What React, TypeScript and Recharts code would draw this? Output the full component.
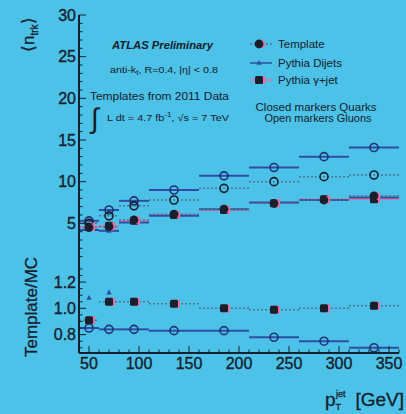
import React from "react";
import { ComposedChart, Scatter, XAxis, YAxis, ErrorBar } from "recharts";

// jet pT bins [GeV]
const binCenters = [50, 70, 95, 135, 185, 235, 285, 335];
const binHalfWidths = [10, 10, 15, 25, 25, 25, 25, 25];

// mean track multiplicity, quark jets (closed markers)
const templateQuark = [4.5, 4.6, 5.4, 6.1, 6.7, 7.4, 7.8, 8.3];
const gammaJetQuark = [4.6, 4.7, 5.3, 6.0, 6.6, 7.4, 7.9, 7.9];
const dijetQuark = [4.2, 4.1, 5.1, 5.9, 6.7, 7.5, 7.8, 8.1];

// mean track multiplicity, gluon jets (open markers)
const templateGluon = [5.0, 5.9, 7.1, 7.8, 9.2, 10.0, 10.6, 10.8];
const dijetGluon = [5.3, 6.6, 7.7, 9.0, 10.7, 11.7, 13.0, 14.1];

// Template / MC
const ratioQuark = [0.91, 1.05, 1.05, 1.035, 1.0, 0.99, 1.0, 1.02];
const ratioQuarkDijet = [1.08, 1.12, 1.06, 1.04, 1.0, 0.99, 1.0, 1.02];
const ratioGluon = [0.85, 0.84, 0.84, 0.83, 0.83, 0.78, 0.75, 0.7];

// axis ticks
const xMajor = [50, 100, 150, 200, 250, 300, 350];
const yMajor = [5, 10, 15, 20, 25, 30];
const rMajor = [0.8, 1.0, 1.2];

const X_DOMAIN: [number, number] = [40, 360];
const Y_DOMAIN: [number, number] = [0, 30];
const R_DOMAIN: [number, number] = [0.66, 1.33];

// minor tick positions
const steps = (a: number, b: number, s: number) => {
  const out: number[] = [];
  for (let v = a; v <= b + 1e-9; v += s) out.push(Math.round(v * 1000) / 1000);
  return out;
};
const xTicks = steps(40, 360, 10);
const yTicks = steps(1, 30, 1);
const rTicks = steps(0.7, 1.3, 0.05);

const BG = "#4cc2e8";
const INK = "#17202c";
const BLUE = "#2d4ea4";
const PINK = "#e8709e";
const DOT = "#4f7594";
const FONT = "'Liberation Sans', Arial, Helvetica, sans-serif";

type Pt = { x: number; y: number; xerr: number };
const toPoints = (vals: number[]): Pt[] =>
  binCenters.map((x, i) => ({ x, y: vals[i], xerr: binHalfWidths[i] }));

type Side = "left" | "right" | "top" | "bottom";

// inward tick marks, labels only on majors
function makeTick(side: Side, majors: number[], fmt?: (v: number) => string) {
  return (props: any) => {
    const { x, y, payload } = props;
    const v = payload.value as number;
    const major = majors.some((m) => Math.abs(m - v) < 1e-6);
    const len = major ? 7 : 3.5;
    let x2 = x;
    let y2 = y;
    if (side === "left") x2 = x + len;
    if (side === "right") x2 = x - len;
    if (side === "top") y2 = y + len;
    if (side === "bottom") y2 = y - len;
    const label = { fontSize: 16, fill: INK, stroke: INK, strokeWidth: 0.35, fontFamily: FONT };
    return (
      <g>
        <line x1={x} y1={y} x2={x2} y2={y2} stroke={INK} strokeWidth={1} />
        {major && fmt && side === "left" && (
          <text x={x - 3} y={y} dy="0.36em" textAnchor="end" {...label}>
            {fmt(v)}
          </text>
        )}
        {major && fmt && side === "bottom" && (
          <text x={x} y={y + 16} textAnchor="middle" {...label}>
            {fmt(v)}
          </text>
        )}
      </g>
    );
  };
}

const frame = { stroke: INK, strokeWidth: 2 };

const closedCircle = (p: any) => (
  <g>
    <circle cx={p.cx + 2.2} cy={p.cy} r={4} fill={PINK} />
    <circle cx={p.cx} cy={p.cy} r={4.4} fill={INK} />
  </g>
);

const closedSquare = (p: any) => (
  <g>
    <rect x={p.cx - 2} y={p.cy - 4} width={8} height={8} fill={PINK} />
    <rect x={p.cx - 4} y={p.cy - 4} width={8} height={8} rx={1.5} fill={INK} />
  </g>
);

const blueTriangle = (p: any) => (
  <polygon
    points={`${p.cx},${p.cy - 3} ${p.cx - 2.6},${p.cy + 1.8} ${p.cx + 2.6},${p.cy + 1.8}`}
    fill={BLUE}
  />
);

const openCircle = (color: string) => (p: any) =>
  <circle cx={p.cx} cy={p.cy} r={4} fill="none" stroke={color} strokeWidth={1.6} />;

export default function App() {
  return (
    <div
      style={{
        position: "absolute",
        left: 0,
        top: 0,
        width: 406,
        height: 414,
        background: BG,
        overflow: "hidden",
        fontFamily: FONT,
      }}
    >
      {/* main panel */}
      <div style={{ position: "absolute", left: 0, top: 0 }}>
        <ComposedChart width={406} height={266} margin={{ top: 15, right: 7, bottom: 1, left: 0 }}>
          <XAxis
            xAxisId="b"
            type="number"
            dataKey="x"
            domain={X_DOMAIN}
            ticks={xTicks}
            interval={0}
            orientation="bottom"
            height={0}
            tickSize={0}
            tickMargin={0}
            tickLine={false}
            axisLine={frame}
            tick={makeTick("bottom", xMajor)}
          />
          <XAxis
            xAxisId="t"
            type="number"
            domain={X_DOMAIN}
            ticks={xTicks}
            interval={0}
            orientation="top"
            height={0}
            tickSize={0}
            tickMargin={0}
            tickLine={false}
            axisLine={frame}
            tick={makeTick("top", xMajor)}
          />
          <YAxis
            yAxisId="l"
            type="number"
            dataKey="y"
            domain={Y_DOMAIN}
            ticks={yTicks}
            interval={0}
            width={79}
            tickSize={0}
            tickMargin={0}
            tickLine={false}
            axisLine={frame}
            tick={makeTick("left", yMajor, (v) => String(v))}
          />
          <YAxis
            yAxisId="r"
            orientation="right"
            type="number"
            domain={Y_DOMAIN}
            ticks={yTicks}
            interval={0}
            width={0}
            tickSize={0}
            tickMargin={0}
            tickLine={false}
            axisLine={frame}
            tick={makeTick("right", yMajor)}
          />

          <Scatter xAxisId="b" yAxisId="l" data={toPoints(dijetGluon)} shape={openCircle("#1f3370")} isAnimationActive={false}>
            <ErrorBar dataKey="xerr" direction="x" width={0} stroke={BLUE} strokeWidth={2} />
          </Scatter>
          <Scatter xAxisId="b" yAxisId="l" data={toPoints(templateGluon)} shape={openCircle(INK)} isAnimationActive={false}>
            <ErrorBar dataKey="xerr" direction="x" width={0} stroke={DOT} strokeWidth={1.5} strokeDasharray="2 2" />
          </Scatter>
          <Scatter xAxisId="b" yAxisId="l" data={toPoints(gammaJetQuark)} shape={closedSquare} isAnimationActive={false}>
            <ErrorBar dataKey="xerr" direction="x" width={0} stroke={PINK} strokeWidth={1.5} />
          </Scatter>
          <Scatter xAxisId="b" yAxisId="l" data={toPoints(dijetQuark)} shape={blueTriangle} isAnimationActive={false}>
            <ErrorBar dataKey="xerr" direction="x" width={0} stroke={BLUE} strokeWidth={2} />
          </Scatter>
          <Scatter xAxisId="b" yAxisId="l" data={toPoints(templateQuark)} shape={closedCircle} isAnimationActive={false}>
            <ErrorBar dataKey="xerr" direction="x" width={0} stroke={DOT} strokeWidth={1.5} strokeDasharray="2 2" />
          </Scatter>
        </ComposedChart>
      </div>

      {/* ratio panel */}
      <div style={{ position: "absolute", left: 0, top: 265 }}>
        <ComposedChart width={406} height={120} margin={{ top: 0, right: 7, bottom: 0, left: 0 }}>
          <XAxis
            xAxisId="b"
            type="number"
            dataKey="x"
            domain={X_DOMAIN}
            ticks={xTicks}
            interval={0}
            orientation="bottom"
            height={32}
            tickSize={0}
            tickMargin={0}
            tickLine={false}
            axisLine={frame}
            tick={makeTick("bottom", xMajor, (v) => String(v))}
          />
          <XAxis
            xAxisId="t"
            type="number"
            domain={X_DOMAIN}
            ticks={xTicks}
            interval={0}
            orientation="top"
            height={0}
            tickSize={0}
            tickMargin={0}
            tickLine={false}
            axisLine={frame}
            tick={makeTick("top", xMajor)}
          />
          <YAxis
            yAxisId="l"
            type="number"
            dataKey="y"
            domain={R_DOMAIN}
            ticks={rTicks}
            interval={0}
            width={79}
            tickSize={0}
            tickMargin={0}
            tickLine={false}
            axisLine={frame}
            allowDataOverflow
            tick={makeTick("left", rMajor, (v) => v.toFixed(1))}
          />
          <YAxis
            yAxisId="r"
            orientation="right"
            type="number"
            domain={R_DOMAIN}
            ticks={rTicks}
            interval={0}
            width={0}
            tickSize={0}
            tickMargin={0}
            tickLine={false}
            axisLine={frame}
            allowDataOverflow
            tick={makeTick("right", rMajor)}
          />

          <Scatter xAxisId="b" yAxisId="l" data={toPoints(ratioGluon)} shape={openCircle("#1f3370")} isAnimationActive={false}>
            <ErrorBar dataKey="xerr" direction="x" width={0} stroke={BLUE} strokeWidth={2} />
          </Scatter>
          <Scatter xAxisId="b" yAxisId="l" data={toPoints(ratioQuarkDijet)} shape={blueTriangle} isAnimationActive={false} />
          <Scatter xAxisId="b" yAxisId="l" data={toPoints(ratioQuark)} shape={closedSquare} isAnimationActive={false}>
            <ErrorBar dataKey="xerr" direction="x" width={0} stroke={DOT} strokeWidth={1.5} strokeDasharray="2 2" />
          </Scatter>
        </ComposedChart>
      </div>

      {/* titles, annotations and legend */}
      <svg
        width={406}
        height={414}
        style={{ position: "absolute", left: 0, top: 0, pointerEvents: "none" }}
        fontFamily={FONT}
        fill={INK}
      >
        <text transform="translate(34,52) rotate(-90)" fontSize={17} stroke={INK} strokeWidth={0.3}>
          ⟨n<tspan fontSize={10} dy={4}>trk</tspan>
          <tspan fontSize={17} dy={-4}>⟩</tspan>
        </text>
        <text transform="translate(37,307) rotate(-90)" fontSize={17} textAnchor="middle" stroke={INK} strokeWidth={0.3}>
          Template/MC
        </text>

        <text x={325} y={406} fontSize={19} stroke={INK} strokeWidth={0.3}>
          p<tspan fontSize={9} dy={4}>T</tspan>
          <tspan fontSize={9} dx={-5} dy={-13}>jet</tspan>
        </text>
        <text x={404} y={406} fontSize={19} textAnchor="end" stroke={INK} strokeWidth={0.3}>
          [GeV]
        </text>

        <text x={112} y={49} fontSize={10.5} fontWeight="bold" fontStyle="italic" textLength={101} lengthAdjust="spacingAndGlyphs">
          ATLAS Preliminary
        </text>
        <text x={110} y={73} fontSize={9.5} textLength={108} lengthAdjust="spacingAndGlyphs">
          anti-k<tspan fontSize={7} dy={2}>t</tspan>
          <tspan dy={-2}>, R=0.4, |η| &lt; 0.8</tspan>
        </text>
        <text x={90} y={100} fontSize={10.5} textLength={139} lengthAdjust="spacingAndGlyphs">
          Templates from 2011 Data
        </text>
        <text x={91} y={128} fontSize={28}>
          ∫
        </text>
        <text x={107} y={121} fontSize={9.5} textLength={122} lengthAdjust="spacingAndGlyphs">
          L dt = 4.7 fb<tspan fontSize={7} dy={-4}>-1</tspan>
          <tspan dy={4}>, √s = 7 TeV</tspan>
        </text>

        {/* legend */}
        <line x1={250} y1={44} x2={272} y2={44} stroke={DOT} strokeWidth={1.5} strokeDasharray="2 2" />
        <circle cx={261.2} cy={44} r={4} fill={PINK} />
        <circle cx={259} cy={44} r={4.4} fill={INK} />
        <text x={278} y={48} fontSize={11.5}>Template</text>

        <line x1={250} y1={63} x2={272} y2={63} stroke={BLUE} strokeWidth={1.5} />
        <polygon points="259,60 256.4,64.8 261.6,64.8" fill={BLUE} />
        <text x={278} y={67} fontSize={11.5}>Pythia Dijets</text>

        <line x1={250} y1={80} x2={272} y2={80} stroke={PINK} strokeWidth={1.5} />
        <rect x={257} y={76} width={8} height={8} fill={PINK} />
        <rect x={255} y={76} width={8} height={8} rx={1.5} fill={INK} />
        <text x={278} y={84} fontSize={11.5}>
          Pythia γ+jet
        </text>

        <text x={316} y={111} fontSize={10} textAnchor="middle" textLength={121} lengthAdjust="spacingAndGlyphs">
          Closed markers Quarks
        </text>
        <text x={318} y={122} fontSize={10} textAnchor="middle" textLength={107} lengthAdjust="spacingAndGlyphs">
          Open markers Gluons
        </text>
      </svg>
    </div>
  );
}
